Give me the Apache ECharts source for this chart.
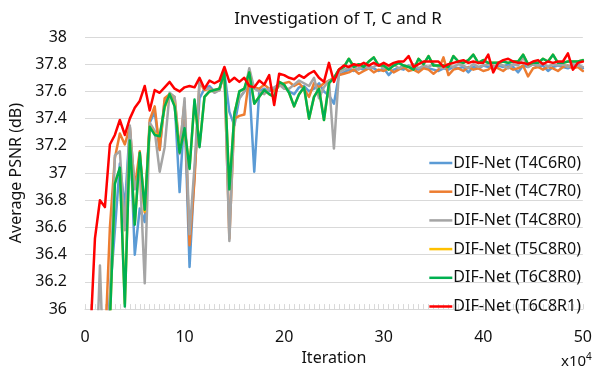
<!DOCTYPE html>
<html>
<head>
<meta charset="utf-8">
<script src="https://cdn.jsdelivr.net/npm/echarts@6/dist/echarts.min.js"></script>
<style>html,body{margin:0;padding:0;background:#fff;}#c{width:595px;height:371px;}</style>
</head>
<body>
<div id="c"></div>
<script>
// Iterations (x10^4)
var iterations = [0.5,1,1.5,2,2.5,3,3.5,4,4.5,5,5.5,6,6.5,7,7.5,8,8.5,9,9.5,10,
10.5,11,11.5,12,12.5,13,13.5,14,14.5,15,15.5,16,16.5,17,17.5,18,18.5,19,19.5,20,
20.5,21,21.5,22,22.5,23,23.5,24,24.5,25,25.5,26,26.5,27,27.5,28,28.5,29,29.5,30,
30.5,31,31.5,32,32.5,33,33.5,34,34.5,35,35.5,36,36.5,37,37.5,38,38.5,39,39.5,40,
40.5,41,41.5,42,42.5,43,43.5,44,44.5,45,45.5,46,46.5,47,47.5,48,48.5,49,49.5,50];

var seriesNames = ["DIF-Net (T4C6R0)","DIF-Net (T4C7R0)","DIF-Net (T4C8R0)","DIF-Net (T5C8R0)","DIF-Net (T6C8R0)","DIF-Net (T6C8R1)"];

var t4c6r0 = [35.0,35.0,35.2,35.5,36.1, 36.58,37.07,36.74,37.34,36.40,
36.74,36.64,37.37,37.45,37.17, 37.53,37.58,37.53,36.86,37.46,
36.31,37.00,37.55,37.62,37.64, 37.60,37.61,37.74,37.45,37.35,
37.55,37.60,37.65,37.01,37.60, 37.62,37.60,37.62,37.66,37.63,
37.60,37.58,37.63,37.64,37.60, 37.62,37.66,37.60,37.57,37.51,
37.72,37.74,37.76,37.75,37.77, 37.76,37.78,37.77,37.75,37.77,
37.72,37.76,37.77,37.76,37.79, 37.77,37.76,37.78,37.77,37.76,
37.75,37.77,37.76,37.78,37.77, 37.78,37.74,37.78,37.77,37.79,
37.78,37.77,37.79,37.78,37.80, 37.78,37.74,37.79,37.78,37.80,
37.78,37.79,37.75,37.78,37.79, 37.78,37.77,37.79,37.80,37.77];

var t4c7r0 = [35.0,35.0,35.2,35.7,36.6, 37.11,37.29,37.21,37.34,36.89,
37.16,36.71,37.39,37.49,37.17, 37.55,37.58,37.56,37.17,37.52,
36.47,36.95,37.67,37.61,37.62, 37.60,37.61,37.75,36.52,37.40,
37.42,37.43,37.70,37.63,37.62, 37.65,37.62,37.60,37.64,37.66,
37.67,37.64,37.66,37.62,37.56, 37.66,37.63,37.66,37.68,37.70,
37.72,37.73,37.74,37.76,37.73, 37.75,37.77,37.74,37.76,37.75,
37.77,37.74,37.76,37.78,37.75, 37.76,37.74,37.77,37.76,37.73,
37.76,37.85,37.72,37.76,37.77, 37.75,37.78,37.76,37.77,37.75,
37.76,37.79,37.77,37.75,37.78, 37.76,37.77,37.79,37.71,37.77,
37.78,37.76,37.78,37.77,37.75, 37.78,37.79,37.77,37.78,37.75];

var t4c8r0 = [35.0,35.3,36.32,35.3,36.05, 37.13,37.16,36.58,37.35,36.88,
37.03,36.19,37.37,37.31,37.01, 37.19,37.59,37.56,37.14,37.55,
36.55,37.05,37.68,37.62,37.62, 37.59,37.61,37.77,36.50,37.45,
37.55,37.60,37.77,37.62,37.60, 37.58,37.62,37.63,37.65,37.62,
37.62,37.65,37.68,37.66,37.64, 37.70,37.55,37.63,37.68,37.18,
37.74,37.76,37.77,37.78,37.76, 37.79,37.77,37.78,37.80,37.77,
37.78,37.80,37.77,37.79,37.78, 37.80,37.77,37.79,37.78,37.80,
37.78,37.77,37.79,37.78,37.80, 37.79,37.77,37.80,37.78,37.79,
37.80,37.78,37.80,37.79,37.77, 37.80,37.79,37.85,37.78,37.80,
37.79,37.81,37.78,37.80,37.79, 37.80,37.78,37.80,37.79,37.78];

var t5c8r0 = [34.5,34.5,34.5,34.5,35.9, 36.93,37.03,36.04,37.23,36.63,
37.14,36.72,37.34,37.29,37.27, 37.48,37.58,37.50,37.16,37.32,
37.04,37.53,37.20,37.56,37.60, 37.61,37.62,37.74,36.89,37.43,
37.60,37.62,37.74,37.51,37.56, 37.61,37.58,37.56,37.67,37.65,
37.59,37.49,37.58,37.63,37.40, 37.56,37.62,37.39,37.66,37.70,
37.76,37.78,37.84,37.78,37.80, 37.78,37.82,37.85,37.79,37.79,
37.76,37.79,37.81,37.79,37.78, 37.76,37.84,37.80,37.86,37.79,
37.79,37.79,37.78,37.86,37.82, 37.81,37.83,37.87,37.81,37.83,
37.81,37.81,37.81,37.82,37.81, 37.82,37.82,37.87,37.80,37.81,
37.81,37.84,37.82,37.87,37.81, 37.81,37.82,37.82,37.82,37.83];

var t6c8r0 = [34.5,34.5,34.5,34.5,35.9, 36.92,37.04,36.02,37.24,36.62,
37.15,36.73,37.34,37.28,37.27, 37.49,37.58,37.49,37.15,37.33,
37.03,37.54,37.19,37.56,37.60, 37.61,37.62,37.74,36.88,37.43,
37.60,37.62,37.74,37.51,37.56, 37.61,37.58,37.56,37.67,37.65,
37.59,37.49,37.58,37.63,37.40, 37.56,37.62,37.39,37.66,37.70,
37.76,37.78,37.84,37.78,37.80, 37.78,37.82,37.85,37.79,37.79,
37.76,37.79,37.81,37.79,37.78, 37.76,37.84,37.80,37.86,37.79,
37.79,37.79,37.78,37.86,37.82, 37.81,37.83,37.87,37.81,37.83,
37.81,37.81,37.81,37.82,37.81, 37.82,37.82,37.87,37.80,37.81,
37.81,37.84,37.82,37.87,37.81, 37.81,37.82,37.82,37.82,37.83];

var t6c8r1 = [35.74,36.52,36.80,36.75,37.21, 37.28,37.39,37.28,37.40,37.48,
37.53,37.64,37.46,37.61,37.59, 37.63,37.67,37.62,37.60,37.63,
37.64,37.63,37.70,37.62,37.68, 37.66,37.68,37.78,37.67,37.70,
37.67,37.70,37.64,37.63,37.68, 37.65,37.72,37.50,37.73,37.72,
37.70,37.69,37.72,37.70,37.73, 37.75,37.70,37.67,37.81,37.67,
37.76,37.79,37.78,37.80,37.79, 37.81,37.79,37.81,37.79,37.81,
37.79,37.81,37.82,37.82,37.86, 37.78,37.80,37.82,37.82,37.82,
37.82,37.78,37.80,37.81,37.82, 37.83,37.81,37.82,37.81,37.81,
37.87,37.74,37.81,37.83,37.84, 37.82,37.81,37.81,37.80,37.82,
37.83,37.80,37.82,37.81,37.82, 37.82,37.88,37.76,37.81,37.82];

var yTicks = [36,36.2,36.4,36.6,36.8,37,37.2,37.4,37.6,37.8,38];
var xTicks = [0,10,20,30,40,50];

var colors = ['#5B9BD5','#ED7D31','#A5A5A5','#FFC000','#00B050','#FF0000'];
var allValues = [t4c6r0, t4c7r0, t4c8r0, t5c8r0, t6c8r0, t6c8r1];

var FONT = '"Noto Sans", "Open Sans", sans-serif';
var chart = echarts.init(document.getElementById('c'), null, {renderer: 'canvas'});

var series = allValues.map(function (vals, i) {
  return {
    name: seriesNames[i],
    type: 'line',
    data: iterations.map(function (x, j) { return [x, vals[j]]; }),
    symbol: 'none',
    clip: true,
    z: i + 2,
    lineStyle: { color: colors[i], width: 2.5, join: 'round', cap: 'round' },
    itemStyle: { color: colors[i] }
  };
});

chart.setOption({
  animation: false,
  backgroundColor: '#ffffff',
  textStyle: { fontFamily: FONT },
  title: {
    text: 'Investigation of T, C and R',
    left: 333, top: 6, textAlign: 'center',
    textStyle: { fontSize: 17, fontWeight: 'normal', color: '#111', fontFamily: FONT }
  },
  grid: { left: 85, right: 12, top: 37, bottom: 56, containLabel: false },
  legend: {
    orient: 'vertical',
    right: 9, top: 150,
    itemWidth: 23, itemHeight: 14, itemGap: 12.7,
    icon: 'path://M0,6 L23,6 L23,8.5 L0,8.5 Z',
    textStyle: { fontSize: 16, color: '#111', fontFamily: FONT, padding: [0,0,0,-4] },
    data: seriesNames
  },
  xAxis: {
    type: 'value', min: 0, max: 50, interval: 10,
    name: 'Iteration', nameLocation: 'middle', nameGap: 39,
    nameTextStyle: { fontSize: 16, color: '#111', fontFamily: FONT },
    axisLine: { show: true, lineStyle: { color: '#d9d9d9', width: 1 } },
    axisTick: { show: true, inside: true, length: 5, lineStyle: { color: '#d9d9d9' } },
    minorTick: { show: true, splitNumber: 20, length: 5, lineStyle: { color: '#d9d9d9' } },
    axisLabel: { fontSize: 16, color: '#111', margin: 20, fontFamily: FONT,
      formatter: function (v) { return xTicks.indexOf(v) >= 0 ? String(v) : ''; } },
    splitLine: { show: false }
  },
  yAxis: {
    type: 'value', min: 36, max: 38, interval: 0.2,
    name: 'Average PSNR (dB)', nameLocation: 'middle', nameGap: 53, nameRotate: 90,
    nameTextStyle: { fontSize: 16, color: '#111', fontFamily: FONT },
    axisLine: { show: false }, axisTick: { show: false },
    axisLabel: { fontSize: 16, color: '#111', margin: 18, fontFamily: FONT,
      formatter: function (v) {
        var r = Math.round(v * 10) / 10;
        return yTicks.indexOf(r) >= 0 ? String(r) : '';
      } },
    splitLine: { show: true, lineStyle: { color: '#d9d9d9', width: 1 } }
  },
  graphic: [{
    type: 'text', left: 561, top: 352,
    style: {
      text: 'x10{sup|4}',
      fontSize: 15, fill: '#111', fontFamily: FONT,
      rich: { sup: { fontSize: 10, verticalAlign: 'top', padding: [0,0,9,0], fill: '#111', fontFamily: FONT } }
    }
  }],
  series: series
});
</script>
</body>
</html>
